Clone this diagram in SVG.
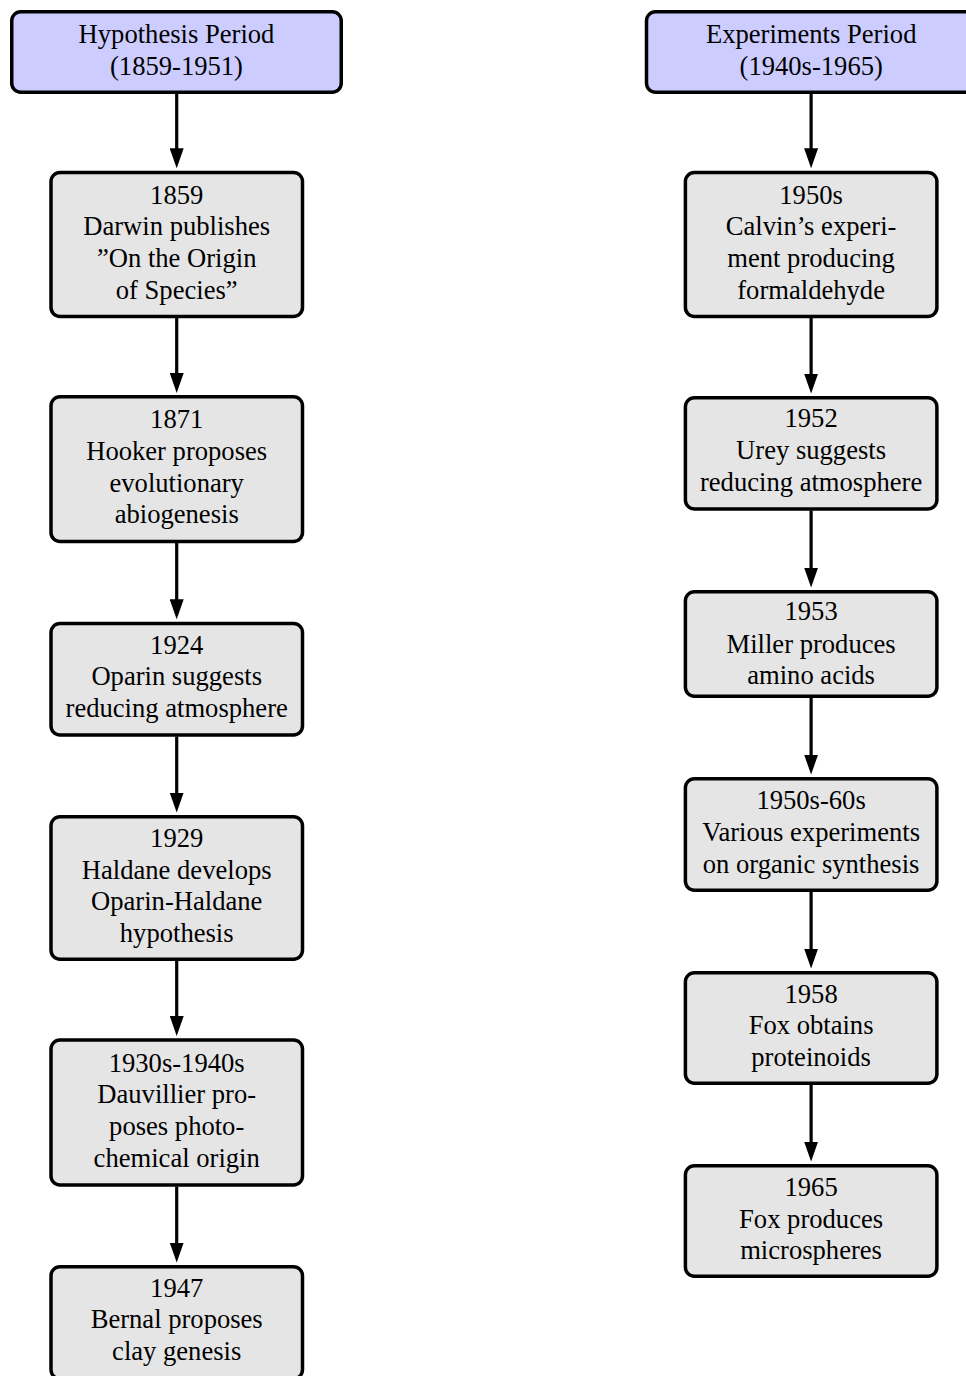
<svg xmlns="http://www.w3.org/2000/svg" width="966" height="1376" viewBox="0 0 966 1376">
<style>
.hdr{fill:#ccccff;stroke:#000;stroke-width:3.5}
.box{fill:#e5e5e5;stroke:#000;stroke-width:3.5}
text{font-family:"Liberation Serif","Times New Roman",serif;font-size:26.6px;fill:#000;text-anchor:middle}
.edge{fill:none;stroke:#000;stroke-width:3.2}
</style>
<defs>
<marker id="arr" markerUnits="userSpaceOnUse" markerWidth="20" markerHeight="14" viewBox="0 0 20 14" refX="10" refY="7" orient="auto">
<path d="M0,0 L20,7 L0,14 z" fill="#000"/>
</marker>
</defs>
<rect width="966" height="1376" fill="#fff"/>
<g id="connectors">
<path class="edge" d="M176.7,93.5 V158.3" marker-end="url(#arr)"/>
<path class="edge" d="M176.7,318 V383" marker-end="url(#arr)"/>
<path class="edge" d="M176.7,543 V609.3" marker-end="url(#arr)"/>
<path class="edge" d="M176.7,736.5 V802.6" marker-end="url(#arr)"/>
<path class="edge" d="M176.7,960.8 V1026" marker-end="url(#arr)"/>
<path class="edge" d="M176.7,1186.5 V1252.6" marker-end="url(#arr)"/>
<path class="edge" d="M811.1,93.5 V158.3" marker-end="url(#arr)"/>
<path class="edge" d="M811.1,318 V383.6" marker-end="url(#arr)"/>
<path class="edge" d="M811.1,510.5 V577.6" marker-end="url(#arr)"/>
<path class="edge" d="M811.1,697.8 V764.6" marker-end="url(#arr)"/>
<path class="edge" d="M811.1,891.8 V958.6" marker-end="url(#arr)"/>
<path class="edge" d="M811.1,1084.8 V1151.6" marker-end="url(#arr)"/>
</g>
<g id="hyp-header">
<rect class="hdr" x="11.75" y="11.75" width="329.5" height="80.5" rx="9"/>
<text x="176.5" y="43.3">Hypothesis Period</text>
<text x="176.5" y="75.3">(1859-1951)</text>
</g>
<g id="n1859">
<rect class="box" x="51" y="172.5" width="251.5" height="144" rx="9"/>
<text x="176.7" y="203.5">1859</text>
<text x="176.7" y="235.3">Darwin publishes</text>
<text x="176.7" y="267.1">”On the Origin</text>
<text x="176.7" y="298.9">of Species”</text>
</g>
<g id="n1871">
<rect class="box" x="51" y="396.75" width="251.5" height="144.75" rx="9"/>
<text x="176.7" y="427.7">1871</text>
<text x="176.7" y="459.6">Hooker proposes</text>
<text x="176.7" y="491.5">evolutionary</text>
<text x="176.7" y="523.3">abiogenesis</text>
</g>
<g id="n1924">
<rect class="box" x="51" y="623.5" width="251.5" height="111.5" rx="9"/>
<text x="176.7" y="653.5">1924</text>
<text x="176.7" y="685.3">Oparin suggests</text>
<text x="176.7" y="717">reducing atmosphere</text>
</g>
<g id="n1929">
<rect class="box" x="51" y="816.75" width="251.5" height="142.5" rx="9"/>
<text x="176.7" y="846.8">1929</text>
<text x="176.7" y="878.6">Haldane develops</text>
<text x="176.7" y="910.3">Oparin-Haldane</text>
<text x="176.7" y="941.9">hypothesis</text>
</g>
<g id="n1930s">
<rect class="box" x="51" y="1040" width="251.5" height="145" rx="9"/>
<text x="176.7" y="1071.7">1930s-1940s</text>
<text x="176.7" y="1103.4">Dauvillier pro-</text>
<text x="176.7" y="1135.1">poses photo-</text>
<text x="176.7" y="1166.8">chemical origin</text>
</g>
<g id="n1947">
<rect class="box" x="51" y="1266.75" width="251.5" height="112" rx="9"/>
<text x="176.7" y="1296.8">1947</text>
<text x="176.7" y="1328.4">Bernal proposes</text>
<text x="176.7" y="1360">clay genesis</text>
</g>
<g id="exp-header">
<rect class="hdr" x="646.5" y="11.75" width="329.5" height="80.5" rx="9"/>
<text x="811.2" y="43.3">Experiments Period</text>
<text x="811.2" y="75.3">(1940s-1965)</text>
</g>
<g id="n1950s">
<rect class="box" x="685.4" y="172.5" width="251.5" height="144" rx="9"/>
<text x="811.1" y="203.5">1950s</text>
<text x="811.1" y="235.3">Calvin’s experi-</text>
<text x="811.1" y="267.1">ment producing</text>
<text x="811.1" y="298.9">formaldehyde</text>
</g>
<g id="n1952">
<rect class="box" x="685.4" y="397.75" width="251.5" height="111.25" rx="9"/>
<text x="811.1" y="427.3">1952</text>
<text x="811.1" y="459.3">Urey suggests</text>
<text x="811.1" y="491">reducing atmosphere</text>
</g>
<g id="n1953">
<rect class="box" x="685.4" y="591.75" width="251.5" height="104.5" rx="9"/>
<text x="811.1" y="620.3">1953</text>
<text x="811.1" y="652.5">Miller produces</text>
<text x="811.1" y="684">amino acids</text>
</g>
<g id="n1950s60s">
<rect class="box" x="685.4" y="778.75" width="251.5" height="111.5" rx="9"/>
<text x="811.1" y="809.3">1950s-60s</text>
<text x="811.1" y="841">Various experiments</text>
<text x="811.1" y="872.5">on organic synthesis</text>
</g>
<g id="n1958">
<rect class="box" x="685.4" y="972.75" width="251.5" height="110.5" rx="9"/>
<text x="811.1" y="1002.7">1958</text>
<text x="811.1" y="1034.4">Fox obtains</text>
<text x="811.1" y="1065.5">proteinoids</text>
</g>
<g id="n1965">
<rect class="box" x="685.4" y="1165.75" width="251.5" height="110.5" rx="9"/>
<text x="811.1" y="1195.8">1965</text>
<text x="811.1" y="1227.5">Fox produces</text>
<text x="811.1" y="1259">microspheres</text>
</g>
</svg>
